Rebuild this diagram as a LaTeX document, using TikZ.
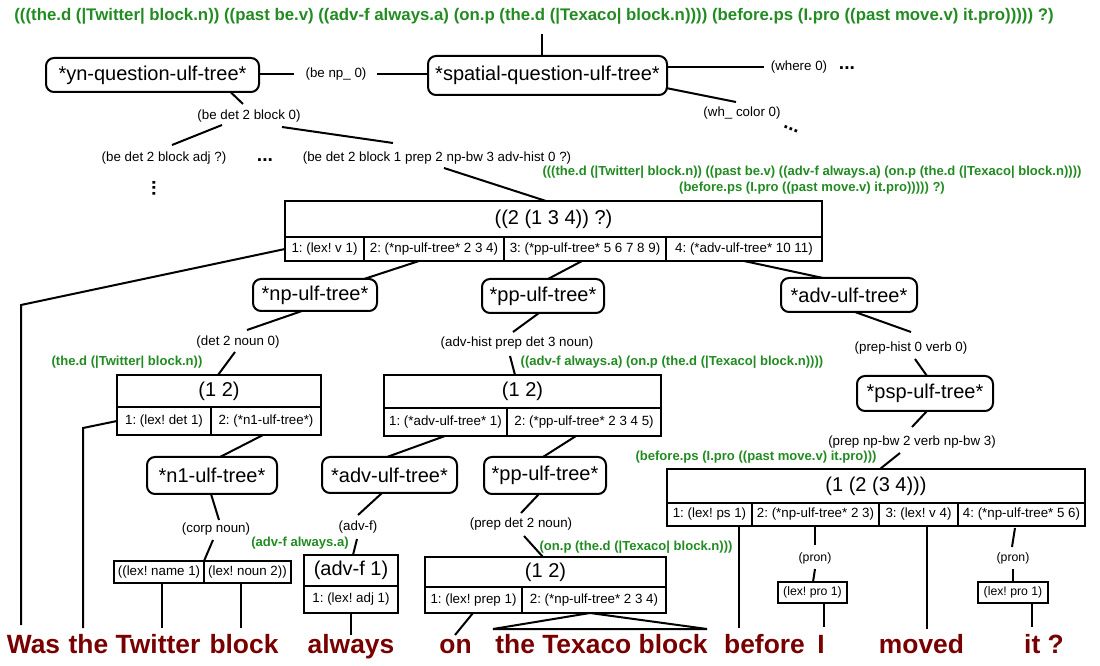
\documentclass[tikz,border=0pt]{standalone}
\usepackage{fontspec}
\setmainfont{Liberation Sans}
\usetikzlibrary{calc}
\definecolor{ulfgreen}{RGB}{34,139,34}
\definecolor{wordred}{RGB}{120,0,0}
\frenchspacing
\begin{document}
\begin{tikzpicture}[x=0.75pt,y=-0.75pt,
  sz/.style 2 args={minimum width=#1*0.75pt,minimum height=#2*0.75pt},
  tree/.style={draw,line width=1.5pt,rounded corners=6pt,inner sep=0pt,font=\fontsize{15}{17}\selectfont},
  hdr/.style={draw,line width=1.5pt,inner sep=0pt,font=\fontsize{15}{17}\selectfont},
  cell/.style={draw,line width=1.5pt,inner sep=0pt,font=\fontsize{10}{12}\selectfont},
  scell/.style={cell,font=\fontsize{9.2}{11}\selectfont},
  lbl/.style={inner sep=0pt,font=\fontsize{10}{12}\selectfont},
  slbl/.style={inner sep=0pt,font=\fontsize{9.2}{11}\selectfont},
  grn/.style={inner sep=0pt,text=ulfgreen,font=\bfseries\fontsize{9.8}{12}\selectfont},
  biggrn/.style={grn,font=\bfseries\fontsize{12.6}{14}\selectfont},
  ellips/.style={inner sep=0pt,font=\bfseries\fontsize{14.5}{15}\selectfont},
  word/.style={inner sep=0pt,anchor=base,text=wordred,font=\bfseries\fontsize{19.8}{22}\selectfont},
  conn/.style={line width=1.5pt},
]
\useasboundingbox (0,0) rectangle (1100,666);

% ---------- top ----------
\node[biggrn] (ulf0) at (534,16) {(((the.d (|Twitter| block.n)) ((past be.v) ((adv-f always.a) (on.p (the.d (|Texaco| block.n)))) (before.ps (I.pro ((past move.v) it.pro))))) ?)};
\node[tree,sz={213}{34}] (yn) at (152.5,75) {*yn-question-ulf-tree*};
\node[tree,sz={239}{39}] (spatial) at (547.5,75.5) {*spatial-question-ulf-tree*};
\node[lbl] (benp) at (336,74) {(be np\_ 0)};
\node[lbl] (where) at (799,67) {(where 0)};
\node[ellips] (dotsA) at (847,68) {...};
\node[lbl] (whc) at (742,113) {(wh\_ color 0)};
\node[ellips,rotate=-22] (dotsB) at (791,129) {...};
\node[lbl] (bd0) at (249,116) {(be det 2 block 0)};
\node[lbl] (bdadj) at (164,158) {(be det 2 block adj ?)};
\node[ellips] (dotsC) at (265,160) {...};
\node[lbl] (bdlong) at (437,158) {(be det 2 block 1 prep 2 np-bw 3 adv-hist 0 ?)};
\node[ellips,rotate=90] (dotsD) at (154,188) {...};
\node[grn,align=center] (ulf1) at (812,180) {(((the.d (|Twitter| block.n)) ((past be.v) ((adv-f always.a) (on.p (the.d (|Texaco| block.n))))\\(before.ps (I.pro ((past move.v) it.pro))))) ?)};

% ---------- big table ----------
\node[hdr,sz={537}{36}] (T1h) at (553.5,219) {((2 (1 3 4)) ?)};
\node[cell,sz={79}{24}] (T1a) at (324.5,249) {1: (lex! v 1)};
\node[cell,sz={140}{24}] (T1b) at (434,249) {2: (*np-ulf-tree* 2 3 4)};
\node[cell,sz={162}{24}] (T1c) at (585,249) {3: (*pp-ulf-tree* 5 6 7 8 9)};
\node[cell,sz={156}{24}] (T1d) at (744,249) {4: (*adv-ulf-tree* 10 11)};

% ---------- second level ----------
\node[tree,sz={124}{32}] (np) at (315,295) {*np-ulf-tree*};
\node[tree,sz={122}{34}] (ppA) at (543,296) {*pp-ulf-tree*};
\node[tree,sz={136}{34}] (advA) at (849,295) {*adv-ulf-tree*};

\node[lbl] (det20) at (238,342) {(det 2 noun 0)};
\node[grn] (g2) at (127,362) {(the.d (|Twitter| block.n))};
\node[lbl] (advhist) at (517,343) {(adv-hist prep det 3 noun)};
\node[grn] (g3) at (672,362) {((adv-f always.a) (on.p (the.d (|Texaco| block.n))))};
\node[lbl] (prephist) at (911,348) {(prep-hist 0 verb 0)};

\node[hdr,sz={204}{32}] (T2h) at (219,391) {(1 2)};
\node[cell,sz={94}{28}] (T2a) at (164,421) {1: (lex! det 1)};
\node[cell,sz={110}{28}] (T2b) at (266,421) {2: (*n1-ulf-tree*)};

\node[hdr,sz={277}{33}] (T3h) at (522.5,391.5) {(1 2)};
\node[cell,sz={123}{28}] (T3a) at (445.5,422) {1: (*adv-ulf-tree* 1)};
\node[cell,sz={154}{28}] (T3b) at (584,422) {2: (*pp-ulf-tree* 2 3 4 5)};

\node[tree,sz={136}{35}] (psp) at (925,393.5) {*psp-ulf-tree*};
\node[lbl] (npbw) at (912,442) {(prep np-bw 2 verb np-bw 3)};
\node[grn] (g7) at (756,457) {(before.ps (I.pro ((past move.v) it.pro)))};

\node[hdr,sz={418}{34}] (T7h) at (876,486) {(1 (2 (3 4)))};
\node[cell,sz={85}{23}] (T7a) at (709.5,514.5) {1: (lex! ps 1)};
\node[cell,sz={127}{23}] (T7b) at (815.5,514.5) {2: (*np-ulf-tree* 2 3)};
\node[cell,sz={79}{23}] (T7c) at (918.5,514.5) {3: (lex! v 4)};
\node[cell,sz={127}{23}] (T7d) at (1021.5,514.5) {4: (*np-ulf-tree* 5 6)};

% ---------- third level ----------
\node[tree,sz={130}{37}] (n1) at (212,475.5) {*n1-ulf-tree*};
\node[tree,sz={135}{36}] (advB) at (389.5,475) {*adv-ulf-tree*};
\node[tree,sz={122}{37}] (ppB) at (545,475.5) {*pp-ulf-tree*};

\node[lbl] (corp) at (216,529) {(corp noun)};
\node[lbl] (advf) at (358,527) {(adv-f)};
\node[grn] (g5) at (300,543) {(adv-f always.a)};
\node[lbl] (prepdet) at (521,524) {(prep det 2 noun)};
\node[grn] (g6) at (636,547) {(on.p (the.d (|Texaco| block.n)))};
\node[slbl] (pron1) at (815,558) {(pron)};
\node[slbl] (pron2) at (1013,558) {(pron)};

\node[cell,sz={90}{22}] (T4a) at (159,572) {((lex! name 1)};
\node[cell,sz={87}{22}] (T4b) at (247.5,572) {(lex! noun 2))};

\node[hdr,sz={94}{31}] (T5h) at (351,570.5) {(adv-f 1)};
\node[cell,sz={94}{27}] (T5a) at (351,599.5) {1: (lex! adj 1)};

\node[hdr,sz={241}{30}] (T6h) at (545.5,572) {(1 2)};
\node[cell,sz={97}{26}] (T6a) at (473.5,600) {1: (lex! prep 1)};
\node[cell,sz={144}{26}] (T6b) at (594,600) {2: (*np-ulf-tree* 2 3 4)};

\node[scell,sz={69}{21}] (P1) at (812.5,592.5) {(lex! pro 1)};
\node[scell,sz={70}{21}] (P2) at (1013,592.5) {(lex! pro 1)};

% ---------- words ----------
\node[word] (w1) at (33.5,653) {Was};
\node[word] (w2) at (88.5,653) {the};
\node[word] (w3) at (158,653) {Twitter};
\node[word] (w4) at (244,653) {block};
\node[word] (w5) at (351,653) {always};
\node[word] (w6) at (455.5,653) {on};
\node[word] (w7) at (601.5,653) {the Texaco block};
\node[word] (w8) at (764.5,653) {before};
\node[word] (w9) at (821,653) {I};
\node[word] (w10) at (921.5,653) {moved};
\node[word] (w11) at (1044,653) {it ?};

\coordinate (bendA) at (21,305);
\coordinate (bendB) at (83,428);

% ---------- connectors ----------
\begin{scope}[conn]
\draw ($(spatial)+(-5.5,-19.5)$) -- ($(ulf0)+(8,18)$);
\draw ($(yn)+(106.5,-1)$) -- ($(benp)+(-42,0)$);
\draw ($(benp)+(41,0)$) -- ($(spatial)+(-119.5,-1.5)$);
\draw ($(spatial)+(119.5,-8.5)$) -- ($(where)+(-35,0)$);
\draw ($(spatial)+(118.5,12.5)$) -- ($(whc)+(-6,-11)$);
\draw ($(yn)+(78.5,17.5)$) -- ($(bd0)+(-6,-12)$);
\draw ($(bd0)+(-27,9)$) -- ($(bdadj)+(8,-13)$);
\draw ($(bd0)+(33,11)$) -- ($(bdlong)+(-44,-15)$);
\draw ($(bdlong)+(7,10)$) -- ($(T1h)+(-7.5,-18)$);
\draw ($(T1a)+(-39.5,0)$) -- (bendA) -- ($(w1.base)+(-12.5,-28)$);
\draw ($(T1b)+(-15,12)$) -- ($(np)+(49,-16)$);
\draw ($(T1c)+(-3,12)$) -- ($(ppA)+(5,-17)$);
\draw ($(T1d)+(0,12)$) -- ($(advA)+(-26,-17)$);
\draw ($(np)+(-13,16)$) -- ($(det20)+(9,-12)$);
\draw ($(det20)+(-3,10)$) -- ($(T2h)+(-1,-16)$);
\draw ($(T2a)+(-47,0)$) -- (bendB) -- ($(w2.base)+(-5.5,-25)$);
\draw ($(T2b)+(-3,14)$) -- ($(n1)+(8,-18.5)$);
\draw ($(n1)+(-1,18.5)$) -- ($(corp)+(3,-9)$);
\draw ($(corp)+(-3,11)$) -- ($(T4a)+(45,-11)$);
\draw ($(T4a)+(3,11)$) -- ($(w3.base)+(4,-25)$);
\draw ($(T4b)+(-6.5,11)$) -- ($(w4.base)+(-3,-25)$);
\draw ($(ppA)+(-4,17)$) -- ($(advhist)+(-4,-11)$);
\draw ($(advhist)+(-7,13)$) -- ($(T3h)+(-7.5,-16.5)$);
\draw ($(T3a)+(-0.5,14)$) -- ($(advB)+(-2.5,-18)$);
\draw ($(T3b)+(-8,14)$) -- ($(ppB)+(-2,-18.5)$);
\draw ($(advB)+(-7.5,18)$) -- ($(advf)+(0,-12)$);
\draw ($(advf)+(-1,12)$) -- ($(T5h)+(2,-15.5)$);
\draw ($(T5a)+(0,13.5)$) -- ($(w5.base)+(0,-18)$);
\draw ($(ppB)+(-6,18.5)$) -- ($(prepdet)+(0,-11)$);
\draw ($(prepdet)+(3,12)$) -- ($(T6h)+(-2.5,-15)$);
\draw ($(T6a)+(-0.5,13)$) -- ($(w6.base)+(-0.5,-18)$);
\draw ($(w7.base)+(-108.5,-24)$) -- ($(T6b)+(-4,13)$) -- ($(w7.base)+(105.5,-24)$) -- cycle;
\draw ($(advA)+(6,17)$) -- ($(prephist)+(0,-16)$);
\draw ($(prephist)+(4,11)$) -- ($(psp)+(2,-17.5)$);
\draw ($(psp)+(2,17.5)$) -- ($(npbw)+(0,-15)$);
\draw ($(npbw)+(-12,11)$) -- ($(T7h)+(4,-17)$);
\draw ($(T7a)+(29.5,11.5)$) -- ($(w8.base)+(-25.5,-25)$);
\draw ($(T7b)+(-0.5,11.5)$) -- ($(pron1)+(0,-13)$);
\draw ($(pron1)+(0,11)$) -- ($(P1)+(0.5,-10.5)$);
\draw ($(P1)+(11.5,10.5)$) -- ($(w9.base)+(3,-26)$);
\draw ($(T7c)+(8.5,11.5)$) -- ($(w10.base)+(5.5,-24)$);
\draw ($(T7d)+(-6.5,13.5)$) -- ($(pron2)+(-1,-11)$);
\draw ($(pron2)+(0,11)$) -- ($(P2)+(0,-10.5)$);
\draw ($(P2)+(19,10.5)$) -- ($(w11.base)+(-12,-26)$);
\end{scope}
\end{tikzpicture}
\end{document}
